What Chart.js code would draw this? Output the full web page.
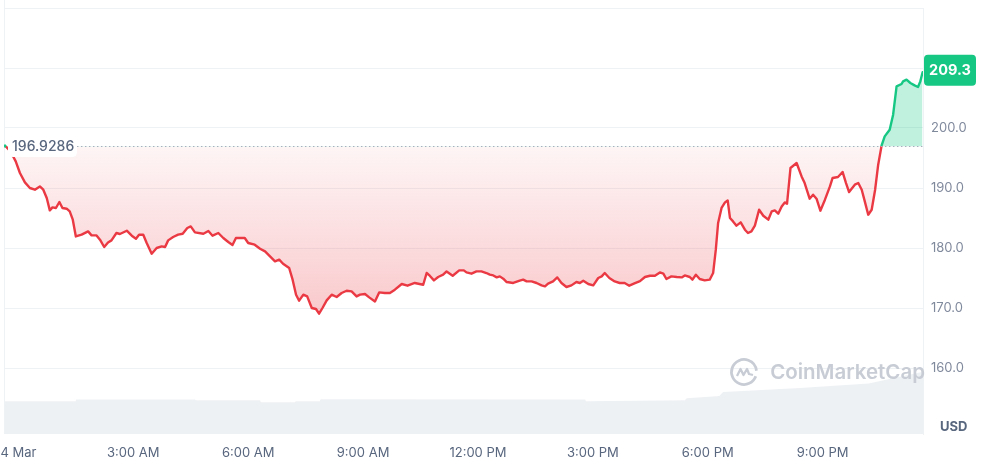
<!DOCTYPE html>
<html><head><meta charset="utf-8">
<script src="https://cdn.jsdelivr.net/npm/chart.js@4.4.1/dist/chart.umd.min.js"></script>
<style>html,body{margin:0;padding:0;background:#fff;}#wrap{width:983px;height:461px;position:relative;}</style>
</head><body><div id="wrap"><canvas id="c"></canvas></div>
<script>
const hours = [-0.33,-0.20,-0.07,0.04,0.17,0.30,0.43,0.56,0.65,0.74,
0.82,0.89,0.98,1.07,1.15,1.26,1.34,1.42,1.50,1.65,
1.82,1.91,2.04,2.13,2.24,2.34,2.43,2.56,2.65,2.83,
2.96,3.07,3.15,3.26,3.35,3.48,3.61,3.74,3.83,3.91,
4.04,4.17,4.29,4.41,4.50,4.61,4.83,4.96,5.07,5.22,
5.35,5.48,5.59,5.68,5.91,6.00,6.17,6.31,6.44,6.57,
6.70,6.81,6.91,7.07,7.16,7.25,7.33,7.44,7.54,7.66,
7.77,7.85,7.94,8.05,8.18,8.31,8.44,8.57,8.70,8.83,
8.92,9.05,9.16,9.31,9.42,9.57,9.70,9.83,10.01,10.16,
10.35,10.57,10.66,10.74,10.85,10.96,11.09,11.18,11.34,11.51,
11.63,11.70,11.83,11.96,12.09,12.22,12.31,12.40,12.49,12.57,
12.66,12.75,12.92,13.09,13.18,13.27,13.40,13.53,13.66,13.75,
13.83,13.96,14.07,14.18,14.31,14.44,14.57,14.66,14.75,14.88,
15.01,15.14,15.23,15.31,15.43,15.57,15.70,15.83,15.95,16.10,
16.23,16.36,16.49,16.62,16.75,16.84,16.92,17.05,17.19,17.32,
17.40,17.53,17.60,17.69,17.79,17.92,18.05,18.14,18.21,18.27,
18.36,18.45,18.52,18.58,18.66,18.75,18.86,18.97,19.05,19.14,
19.23,19.34,19.45,19.58,19.67,19.75,19.84,19.93,20.01,20.07,
20.16,20.32,20.45,20.53,20.66,20.75,20.84,20.94,21.06,21.19,
21.26,21.40,21.52,21.61,21.69,21.84,21.93,22.02,22.10,22.19,
22.28,22.37,22.45,22.54,22.62,22.75,22.84,22.93,23.06,23.10,
23.19,23.29,23.40,23.49,23.55,23.61];

const prices = [196.93,196.05,194.43,192.5,190.93,190.0,189.72,190.27,189.72,188.33,
186.27,186.77,186.67,187.67,186.67,186.55,186.1,184.72,181.93,182.22,
182.77,182.1,182.1,181.38,180.17,180.93,181.27,182.5,182.33,182.88,
182.05,181.55,182.22,182.22,180.83,179.05,180.0,180.27,180.17,181.27,
181.83,182.22,182.38,183.33,183.6,182.6,182.38,182.83,182.05,182.5,
181.67,181.0,180.5,181.67,181.67,180.83,180.55,179.88,179.43,178.6,
177.77,178.05,177.38,176.67,174.72,172.22,171.22,172.22,171.93,170.0,
169.83,169.05,170.0,171.27,172.22,171.83,172.5,172.88,172.77,171.93,
172.22,172.33,171.77,171.1,172.6,172.5,172.5,173.05,174.0,173.72,
174.17,173.88,175.83,175.38,174.6,175.17,175.55,176.1,175.38,176.27,
176.27,175.93,175.72,176.1,176.1,175.83,175.55,175.43,175.1,175.27,
174.88,174.33,174.17,174.55,174.72,174.43,174.43,174.17,173.77,173.6,
174.05,174.43,175.1,174.17,173.5,173.77,174.33,174.17,174.55,174.0,
173.77,175.0,175.27,175.83,175.0,174.43,174.17,174.17,173.72,174.13,
174.47,175.17,175.38,175.38,175.93,175.72,174.83,175.27,175.17,175.1,
175.43,175.17,174.72,175.55,174.83,174.6,174.72,175.83,179.72,184.17,
186.67,187.6,187.93,185.0,184.43,183.72,184.27,183.05,182.5,182.77,
183.72,186.38,185.38,184.72,186.1,186.27,185.72,186.93,187.6,187.38,
193.33,194.17,191.93,190.83,188.22,188.88,188.22,186.22,188.05,190.27,
191.67,191.83,192.67,190.83,189.33,190.55,190.83,189.72,187.77,185.55,
186.38,189.72,193.88,197.1,198.6,199.72,202.22,206.93,207.33,207.77,
208.05,207.5,207.1,206.83,207.77,209.3];

const baseline = 196.9286;
const baselineLabel = '196.9286';
const lastLabel = '209.3';
const tickHours = [0,3,6,9,12,15,18,21];
const tickLabels = ['4 Mar','3:00 AM','6:00 AM','9:00 AM','12:00 PM','3:00 PM','6:00 PM','9:00 PM'];
const yTicks = [160,170,180,190,200,210,220];
const volHours = [-0.35,1.48,1.50,4.61,4.63,6.31,6.33,7.22,7.24,7.87,7.89,14.80,14.82,17.40,17.45,18.30,18.40,20.40,22.20,23.62];
const volumes = [10.0,10.0,10.5,10.5,10.3,10.3,9.7,9.7,10.0,10.0,10.6,10.5,10.0,10.3,10.9,11.6,12.8,14.0,15.4,19.0];

const RED = '#ea3943', GREEN = '#16c784', GRID = '#eff2f5';
Chart.defaults.font.family = 'Inter, "Noto Sans", sans-serif';

function lineColor(ctx) {
  const chart = ctx.chart, a = chart.chartArea;
  if (!a || !chart.scales.y) return RED;
  const y = chart.scales.y.getPixelForValue(baseline);
  const s = Math.min(1, Math.max(0, (y - a.top) / (a.bottom - a.top)));
  const g = chart.ctx.createLinearGradient(0, a.top, 0, a.bottom);
  g.addColorStop(0, GREEN); g.addColorStop(s, GREEN);
  g.addColorStop(s, RED); g.addColorStop(1, RED);
  return g;
}
function redFill(ctx) {
  const chart = ctx.chart, a = chart.chartArea;
  if (!a || !chart.scales.y) return 'rgba(234,57,67,0.1)';
  const y0 = chart.scales.y.getPixelForValue(baseline);
  const y1 = chart.scales.y.getPixelForValue(168);
  const g = chart.ctx.createLinearGradient(0, y0, 0, y1);
  g.addColorStop(0, 'rgba(234,57,67,0.05)');
  g.addColorStop(1, 'rgba(234,57,67,0.28)');
  return g;
}
function rr(c, x, y, w, h, r) {
  c.beginPath(); c.moveTo(x + r, y); c.lineTo(x + w - r, y); c.quadraticCurveTo(x + w, y, x + w, y + r);
  c.lineTo(x + w, y + h - r); c.quadraticCurveTo(x + w, y + h, x + w - r, y + h); c.lineTo(x + r, y + h);
  c.quadraticCurveTo(x, y + h, x, y + h - r); c.lineTo(x, y + r); c.quadraticCurveTo(x, y, x + r, y); c.closePath();
}

const extras = {
  id: 'extras',
  beforeDatasetsDraw(chart) {
    const c = chart.ctx, a = chart.chartArea;
    c.save();
    c.strokeStyle = GRID; c.lineWidth = 1;
    c.beginPath(); c.moveTo(a.left - 0.5, 0); c.lineTo(a.left - 0.5, a.bottom); c.stroke();
    c.restore();
  },
  afterDatasetsDraw(chart) {
    const c = chart.ctx, a = chart.chartArea, ys = chart.scales.y;
    c.save();
    // watermark
    const wy = a.bottom - 62;
    const lx = a.right - 179;
    c.strokeStyle = '#c8cdd5'; c.fillStyle = '#c8cdd5'; c.lineWidth = 2.8;
    c.beginPath(); c.arc(lx, wy, 12.5, 0.35, Math.PI * 2 - 0.1); c.stroke();
    c.lineWidth = 2.3; c.lineJoin = 'round';
    c.beginPath();
    c.moveTo(lx - 7, wy + 4); c.lineTo(lx - 3.5, wy - 3); c.lineTo(lx - 0.5, wy + 3);
    c.lineTo(lx + 3, wy - 3); c.lineTo(lx + 5, wy + 2); c.lineTo(lx + 9, wy + 3);
    c.stroke();
    c.font = '600 20.5px Inter'; c.textAlign = 'right'; c.textBaseline = 'middle';
    c.fillText('CoinMarketCap', a.right + 2, wy + 1);
    // dotted baseline
    const by = Math.round(ys.getPixelForValue(baseline)) + 0.5;
    c.strokeStyle = '#a7afbd'; c.lineWidth = 1.2; c.setLineDash([1.4, 2.6]);
    c.beginPath(); c.moveTo(a.left + 72, by); c.lineTo(a.right, by); c.stroke();
    c.setLineDash([]);
    // baseline label
    c.fillStyle = '#ffffff'; rr(c, a.left + 3, by - 10.5, 69, 21, 5); c.fill();
    c.fillStyle = '#58667e'; c.font = '500 14px Inter'; c.textAlign = 'left'; c.textBaseline = 'middle';
    c.fillText(baselineLabel, a.left + 7, by + 0.5);
    c.fillStyle = GREEN; c.fillRect(a.left - 1, by - 2, 2, 3);
    // last price badge
    const ly = ys.getPixelForValue(prices[prices.length - 1]) - 2;
    c.fillStyle = GREEN; rr(c, a.right + 1, ly - 15.5, 52, 31, 4); c.fill();
    c.fillStyle = '#ffffff'; c.font = '700 14.5px Inter'; c.textAlign = 'center';
    c.fillText(lastLabel, a.right + 27, ly + 0.5);
    // USD
    c.fillStyle = '#58667e'; c.font = '700 13px Inter'; c.textAlign = 'left';
    c.fillText('USD', a.right + 17, a.bottom - 7);
    c.restore();
  }
};

new Chart(document.getElementById('c'), {
  data: {
    datasets: [
      {
        type: 'line', label: 'Price', order: 1,
        data: hours.map((h, i) => ({ x: h, y: prices[i] })),
        borderColor: lineColor, borderWidth: 2.4, pointRadius: 0, tension: 0,
        borderJoinStyle: 'round', borderCapStyle: 'round',
        backgroundColor: redFill,
        fill: { target: { value: baseline }, above: 'rgba(22,199,132,0.27)' }
      },
      {
        type: 'line', label: 'Volume', order: 2, yAxisID: 'yv',
        data: volHours.map((h, i) => ({ x: h, y: volumes[i] })),
        borderWidth: 0, pointRadius: 0, backgroundColor: '#eef1f4', fill: 'origin'
      }
    ]
  },
  options: {
    responsive: true, maintainAspectRatio: false, animation: false,
    layout: { padding: { left: 5, top: 8, right: 0, bottom: 0 } },
    plugins: { legend: { display: false }, tooltip: { enabled: false } },
    scales: {
      x: {
        type: 'linear', min: -0.35, max: 23.62,
        afterBuildTicks: s => { s.ticks = tickHours.map(v => ({ value: v })); },
        afterFit: s => { s.height = 27; s.paddingLeft = 0; s.paddingRight = 0; },
        grid: { display: false, drawTicks: false }, border: { display: false },
        ticks: { autoSkip: false, maxRotation: 0, padding: 11, color: '#58667e', font: { size: 13 },
          callback: v => { const i = tickHours.indexOf(v); return i >= 0 ? tickLabels[i] : ''; } }
      },
      y: {
        position: 'right', min: 149, max: 220,
        afterBuildTicks: s => { s.ticks = yTicks.map(v => ({ value: v })); },
        afterFit: s => { s.width = 60; s.paddingTop = 0; s.paddingBottom = 0; },
        grid: { color: GRID, drawTicks: false }, border: { display: true, color: GRID },
        ticks: { padding: 8, color: '#808a9d', font: { size: 13 },
          callback: v => (v >= 160 && v <= 200) ? v.toFixed(1) : '' }
      },
      yv: { display: false, min: 0, max: 130 }
    }
  },
  plugins: [extras]
});
</script></body></html>
